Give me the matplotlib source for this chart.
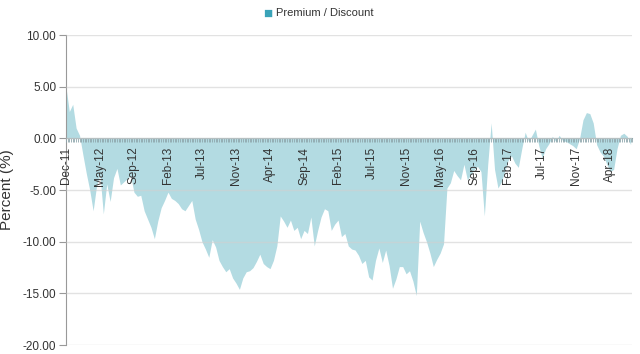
import numpy as np
import matplotlib
matplotlib.use("Agg")
import matplotlib.pyplot as plt

plt.rcParams['font.family'] = ['Liberation Sans', 'DejaVu Sans']

# =========================
# Data (premium / discount, %)
# =========================
premium_discount = [
    5.0, 2.6, 3.3, 1.0, 0.3, -1.6, -3.4, -5.0, -7.0, -4.6,
    -3.5, -7.3, -4.4, -6.1, -3.8, -2.9, -4.5, -4.2, -3.9, -3.6,
    -5.2, -5.6, -5.5, -7.0, -7.8, -8.6, -9.7, -8.0, -6.7, -6.0,
    -5.2, -5.8, -6.0, -6.3, -6.8, -7.0, -6.5, -6.0, -7.8, -8.8,
    -10.0, -10.7, -11.5, -9.8, -10.5, -11.8, -12.4, -12.9, -12.6, -13.5,
    -14.0, -14.6, -13.5, -12.9, -12.8, -12.5, -11.9, -11.2, -12.1, -12.4,
    -12.6, -11.8, -10.4, -7.5, -8.0, -8.6, -7.9, -8.9, -8.6, -9.7,
    -8.9, -9.2, -7.6, -10.4, -8.9, -7.6, -6.8, -7.0, -8.9, -8.3,
    -7.9, -9.5, -9.2, -10.4, -10.7, -10.8, -11.3, -12.1, -11.8, -13.4,
    -13.7, -11.8, -10.6, -12.0, -10.8, -12.3, -14.5, -13.6, -12.4, -12.4,
    -13.1, -12.8, -13.8, -15.2, -8.0, -9.1, -10.0, -11.1, -12.4, -11.7,
    -11.1, -10.2, -4.8, -4.3, -3.1, -3.6, -4.0, -2.5, -4.0, -3.5,
    -3.0, -2.7, -3.2, -7.5, -2.5, 1.5, -3.0, -4.8, -4.2, -3.2,
    -2.1, -1.7, -2.4, -2.8, -1.0, 0.6, -0.3, 0.3, 0.9, -0.7,
    -1.9, -1.0, -0.5, 0.2, -0.3, 0.3, -0.2, -0.3, -0.5, -0.7,
    -1.0, 0.0, 1.8, 2.5, 2.4, 1.5, -0.6, -1.3, -1.7, -2.5,
    -3.2, -3.0, -1.0, 0.3, 0.5, 0.2, -0.6,
]

tick_labels = ["Dec-11", "May-12", "Sep-12", "Feb-13", "Jul-13", "Nov-13",
               "Apr-14", "Sep-14", "Feb-15", "Jul-15", "Nov-15", "May-16",
               "Sep-16", "Feb-17", "Jul-17", "Nov-17", "Apr-18"]
label_step = 10

y_ticks = [10, 5, 0, -5, -10, -15, -20]

# =========================
# Plot
# =========================
x = np.arange(len(premium_discount))
vals = np.array(premium_discount)

fig = plt.figure(figsize=(6.4, 3.54), dpi=100)
ax = fig.add_axes([0.103, 0.025, 0.885, 0.876])

ax.fill_between(x, vals, 0, color='#b3dbe2', linewidth=0, zorder=1)
ax.set_axisbelow(False)   # ticks and labels over the area, like the original

ax.set_xlim(0, len(premium_discount) - 0.5)
ax.set_ylim(-20, 10)

# horizontal grid (faintly visible through the area)
ax.set_yticks(y_ticks)
ax.set_yticklabels([f"{v:.2f}" for v in y_ticks])
ax.grid(axis='y', color='#d0d0d0', alpha=0.6, linewidth=1)
ax.tick_params(axis='y', length=5, width=0.8, color='#999999',
               labelsize=8.5, labelcolor='#333333', pad=2)

# x axis drawn at zero
ax.spines['bottom'].set_position(('data', 0))
ax.spines['bottom'].set_color('#8fa7ad')
ax.spines['top'].set_visible(False)
ax.spines['right'].set_visible(False)
ax.spines['left'].set_color('#999999')

ax.set_xticks(np.arange(0, len(tick_labels) * label_step, label_step))
ax.set_xticklabels(tick_labels, rotation=90, va='top', ha='center')
ax.set_xticks(np.arange(0, len(premium_discount), 0.5), minor=True)
ax.tick_params(axis='x', which='both', length=3, width=0.6,
               color='#8fa7ad', direction='out', labelsize=8.5,
               labelcolor='#333333', pad=3)

ax.set_ylabel("Percent (%)", fontsize=11, color='#333333', labelpad=6)

# legend
fig.text(0.425, 0.962, "\u25a0", color='#3aa3b8', fontsize=11,
         ha='right', va='center')
fig.text(0.432, 0.962, "Premium / Discount", color='#333333',
         fontsize=8, ha='left', va='center')

fig.savefig("out.png", dpi=100)
